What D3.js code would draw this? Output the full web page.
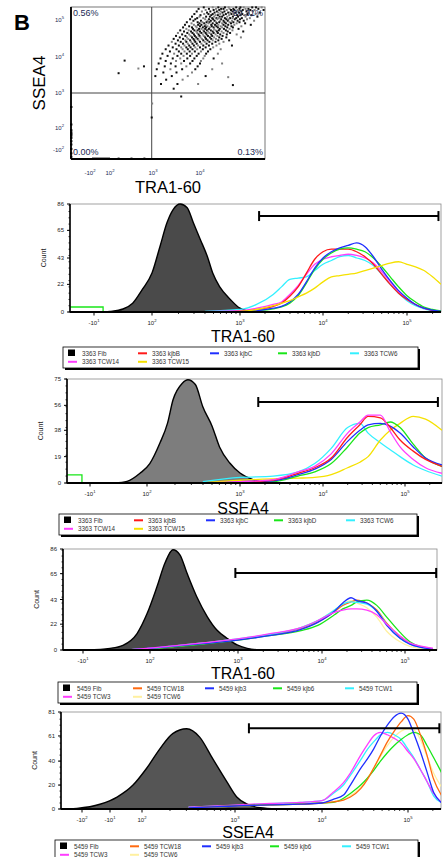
<!DOCTYPE html>
<html>
<head>
<meta charset="utf-8">
<script src="https://cdn.jsdelivr.net/npm/d3@7"></script>
<style>
  body { margin: 0; background: #fff; }
  svg { display: block; font-family: "Liberation Sans", Arial, sans-serif; }
</style>
</head>
<body>
<div id="wrapper"></div>
<script>
// ---------- DATA ------------------------------------------------------
// all x / y values are decades on the biexponential display (3 = 10^3)

// scatter cloud, one row per SSEA4 level: [y, [TRA1-60 values]]
const cloudRows = [
  [5.34, [4.08, 4.27, 4.39, 4.53, 4.61, 4.77, 4.86, 4.93, 5.11, 5.19, 5.31]],
  [5.30, [3.97, 4.19, 4.34, 4.45, 4.5, 4.63, 4.71, 4.84, 4.97, 5.03, 5.24]],
  [5.27, [4.12, 4.29, 4.41, 4.57, 4.66, 4.73, 4.8, 4.91, 5.07, 5.16, 5.35]],
  [5.23, [3.93, 4.04, 4.22, 4.36, 4.44, 4.52, 4.69, 4.78, 4.88, 4.99, 5.13]],
  [5.20, [4.15, 4.31, 4.39, 4.48, 4.6, 4.64, 4.75, 4.83, 5.04, 5.27]],
  [5.16, [3.88, 4.09, 4.18, 4.27, 4.43, 4.55, 4.67, 4.72, 4.9, 5.01, 5.18]],
  [5.13, [4.01, 4.24, 4.33, 4.38, 4.5, 4.62, 4.79, 4.86, 4.95, 5.09]],
  [5.09, [3.83, 3.99, 4.13, 4.21, 4.3, 4.42, 4.47, 4.58, 4.7, 4.81, 4.97, 5.22]],
  [5.05, [3.94, 4.07, 4.26, 4.35, 4.4, 4.53, 4.64, 4.69, 4.77, 4.89, 5.06]],
  [5.02, [3.79, 3.9, 4.11, 4.19, 4.28, 4.37, 4.45, 4.56, 4.61, 4.74, 4.85, 5.0]],
  [4.98, [3.86, 4.02, 4.16, 4.23, 4.31, 4.43, 4.5, 4.59, 4.68, 4.8, 4.93, 5.15]],
  [4.94, [3.72, 3.95, 4.05, 4.14, 4.2, 4.34, 4.41, 4.52, 4.63, 4.71, 4.84]],
  [4.91, [3.82, 3.99, 4.09, 4.18, 4.27, 4.36, 4.47, 4.55, 4.66, 4.78, 4.96]],
  [4.87, [3.68, 3.87, 3.96, 4.03, 4.12, 4.24, 4.32, 4.39, 4.5, 4.6, 4.73, 5.08]],
  [4.83, [3.77, 3.91, 4.0, 4.1, 4.16, 4.25, 4.35, 4.44, 4.54, 4.67, 4.88]],
  [4.80, [3.64, 3.83, 3.93, 4.06, 4.13, 4.21, 4.29, 4.38, 4.47, 4.58, 4.7]],
  [4.76, [3.71, 3.85, 3.98, 4.03, 4.11, 4.19, 4.3, 4.42, 4.51, 4.63, 4.82]],
  [4.72, [3.58, 3.76, 3.88, 3.95, 4.07, 4.15, 4.23, 4.33, 4.4, 4.55, 4.69]],
  [4.69, [3.66, 3.81, 3.92, 4.0, 4.09, 4.17, 4.27, 4.36, 4.46, 4.59, 4.92]],
  [4.65, [3.53, 3.73, 3.84, 3.94, 4.03, 4.12, 4.2, 4.29, 4.38, 4.5, 4.64]],
  [4.61, [3.62, 3.77, 3.87, 3.97, 4.06, 4.14, 4.24, 4.33, 4.43, 4.57, 4.78]],
  [4.57, [3.49, 3.69, 3.8, 3.89, 3.99, 4.08, 4.17, 4.26, 4.37, 4.48]],
  [4.53, [3.57, 3.72, 3.83, 3.92, 4.01, 4.11, 4.21, 4.3, 4.41, 4.56, 4.87]],
  [4.49, [3.44, 3.64, 3.75, 3.86, 3.95, 4.04, 4.13, 4.24, 4.34, 4.46]],
  [4.45, [3.53, 3.69, 3.79, 3.88, 3.97, 4.07, 4.16, 4.27, 4.39, 4.62]],
  [4.41, [3.4, 3.59, 3.71, 3.81, 3.9, 4.0, 4.1, 4.2, 4.33, 4.5]],
  [4.36, [3.48, 3.64, 3.74, 3.84, 3.93, 4.03, 4.14, 4.26, 4.41]],
  [4.31, [3.33, 3.55, 3.67, 3.77, 3.87, 3.96, 4.07, 4.19, 4.35, 4.68]],
  [4.26, [3.42, 3.6, 3.71, 3.8, 3.9, 4.0, 4.12, 4.28]],
  [4.21, [3.27, 3.5, 3.63, 3.74, 3.84, 3.94, 4.06, 4.22, 4.44]],
  [4.15, [3.36, 3.55, 3.67, 3.78, 3.89, 4.02, 4.17]],
  [4.09, [3.2, 3.45, 3.6, 3.72, 3.83, 3.97, 4.13, 4.38]],
  [4.03, [3.31, 3.52, 3.65, 3.79, 3.93, 4.1]],
  [3.96, [3.16, 3.42, 3.58, 3.73, 3.88, 4.07, 4.29]],
  [3.89, [3.27, 3.49, 3.66, 3.84, 4.02]],
  [3.82, [3.12, 3.38, 3.6, 3.79, 4.0, 4.47]],
  [3.74, [3.25, 3.48, 3.71, 3.95]],
  [3.66, [3.08, 3.37, 3.62, 3.9, 4.26]],
  [3.57, [3.22, 3.5, 3.83]],
  [3.47, [3.05, 3.4, 3.74, 4.12]],
  [3.37, [3.28, 3.63]],
  [3.25, [3.17, 3.52, 3.96]],
  [3.12, [3.44]]
];
const strayEvents = [[2.34, 3.9], [2.66, 3.68], [2.79, 3.74], [2.2, 3.55], [2.98, 2.7],
  [2.97, 2.3], [4.7, 3.22], [4.6, 3.44], [3.6, 2.9]];
const leftEdgeEvents = [2.6, 2.1, 1.6, 1.2, 0.9, 0.6, 0.2, -0.4, -1.0, -1.8, -2.6, -3.2];
const bottomEdgeEvents = [-1.4, -1.0, -0.6, -0.2, 0.2, 0.6, 1.0, 1.4, 1.8, 2.2, 2.5, 2.8];
const quadGate = [2.97, 3.0];
const quadLabels = ["0.56%", "99.31%", "0.00%", "0.13%"];
const scatterXTicks = [-2, 2, 3, 4];
const scatterYTicks = [-2, 2, 3, 4, 5];

// legends
const legend3363 = ["3363 Fib", "3363 kjbB", "3363 kjbC", "3363 kjbD", "3363 TCW6", "3363 TCW14", "3363 TCW15"];
const legend5459 = ["5459 Fib", "5459 TCW18", "5459 kjb3", "5459 kjb6", "5459 TCW1", "5459 TCW3", "5459 TCW6"];

// panel 1: TRA1-60, line 3363
const fib1X = [-0.5, -0.17, 0.5, 1.0, 1.5, 2.0, 2.09, 2.17, 2.24, 2.32, 2.4, 2.47, 2.55, 2.63, 2.69, 2.77, 2.89, 3.0, 3.16];
const fib1Y = [0, 0.5, 2.4, 7, 18, 31, 52, 71, 81.5, 86, 83, 71, 57.6, 44, 31, 20, 10, 3, 0];
const grid1 = [2.6, 3.0, 3.2, 3.4, 3.5, 3.6, 3.7, 3.8, 3.9, 4.0, 4.1, 4.2, 4.3, 4.4, 4.5, 4.6, 4.7, 4.8, 4.9, 5.0, 5.1, 5.2, 5.3, 5.4];
const tra3363kjbB = [0, 0.5, 2, 4.5, 7, 12.5, 20, 31, 42, 48, 50, 50, 50, 48, 44, 38, 30, 22, 15, 10, 6, 3, 1.3, 0.5];
const tra3363kjbC = [0, 0.3, 1, 3, 4.5, 8, 14, 24, 35, 43, 48, 51, 53, 55, 52, 44, 34, 25, 17, 11, 6, 3, 1.5, 0.5];
const tra3363kjbD = [0, 0.3, 1, 2.5, 4, 7, 13, 23, 34, 42, 47, 50, 51, 50, 48, 43, 36, 28, 20, 13, 8, 4, 2, 0.8];
const tra3363TCW6 = [0.5, 2, 6, 14, 20, 26, 27, 28, 33, 38, 41, 44, 45, 43, 41, 37, 30, 22, 15, 9, 5, 2.5, 1, 0.4];
const tra3363TCW14 = [0.3, 1, 3, 6, 8, 14, 21, 30, 38, 42, 44, 45, 46, 45, 43, 39, 32, 24, 16, 10, 6, 3, 1.5, 0.5];
const tra3363TCW15 = [0, 0.5, 2, 5, 7, 9, 12, 15, 19, 24, 28, 29, 30, 31, 33, 35, 37, 39, 40, 38, 36, 33, 28, 22];
const gate1 = [3.23, 5.37, 76.4];
const step1 = [-2.2, -0.53, 4];

// panel 2: SSEA4, line 3363
const fib2X = [0.3, 0.95, 1.63, 2.03, 2.14, 2.22, 2.28, 2.38, 2.44, 2.52, 2.6, 2.7, 2.78, 2.89, 3.0, 3.16, 3.33];
const fib2Y = [0, 1.2, 7, 14, 29, 43, 60, 72, 74.5, 71, 55, 41, 26, 14.4, 7.2, 2.4, 0];
const grid2 = [2.6, 3.0, 3.4, 3.7, 3.9, 4.1, 4.3, 4.45, 4.55, 4.7, 4.82, 4.94, 5.1, 5.25, 5.45];
const ssea3363kjbB = [0, 0.5, 2, 7, 11, 18, 33, 42, 48, 47, 40, 31, 23, 17, 12];
const ssea3363kjbC = [0, 0.5, 1.5, 6, 10, 17, 30, 38, 42, 43, 41, 36, 26, 18, 13];
const ssea3363kjbD = [0, 0.5, 1, 5, 8, 14, 26, 36, 40, 42, 44, 40, 28, 18, 12];
const ssea3363TCW6 = [1, 4, 5, 8, 14, 25, 40, 43, 36, 29, 24, 19, 13, 9, 5];
const ssea3363TCW14 = [0, 1, 2.5, 8, 12, 21, 36, 44, 49, 49, 37, 26, 17, 11, 7];
const ssea3363TCW15 = [0, 2, 3, 3.5, 4, 6, 11, 15, 19, 31, 38, 43, 48, 46, 38];
const gate2 = [3.22, 5.4, 58.4];
const step2 = [-2.2, -1.42, 5.8];

// panel 3: TRA1-60, line 5459
const fib3X = [-0.82, 0.21, 0.79, 1.42, 1.87, 2.08, 2.17, 2.26, 2.34, 2.42, 2.53, 2.65, 2.76, 2.875, 2.99, 3.11, 3.26];
const fib3Y = [0, 1.4, 4, 14, 31, 54, 74, 85.4, 81, 65.5, 45.6, 28.5, 17, 10, 4.3, 1.4, 0];
const grid3 = [1.0, 2.0, 2.6, 2.95, 3.35, 3.75, 3.95, 4.15, 4.25, 4.35, 4.42, 4.54, 4.66, 4.78, 4.94, 5.06, 5.18, 5.34];
const tra5459TCW18 = [0, 1.4, 5.7, 8.5, 12.8, 18.5, 24, 32.7, 38, 41, 42.5, 40, 34, 22.8, 11.4, 5.7, 2.8, 0.9];
const tra5459kjb3 = [0, 1.5, 5.5, 8, 12, 17.5, 23.5, 33, 40, 44.5, 42, 40, 33, 21, 10, 5, 2.5, 0.8];
const tra5459kjb6 = [0, 1.2, 5, 8, 12, 16.5, 21, 30, 35, 38, 41, 42.5, 38, 28, 15, 7, 3, 1];
const tra5459TCW1 = [0, 1.4, 6, 9, 13, 19, 25, 34, 39, 41, 40.5, 39, 33, 22, 10, 5, 2.5, 0.8];
const tra5459TCW3 = [0, 1.6, 6, 9, 13.5, 19, 25, 32, 34, 35, 35, 34, 30, 22, 12, 6, 3.5, 1.5];
const tra5459TCW6 = [0, 1.4, 5.5, 8.5, 13, 19, 25, 34, 39, 42, 40, 36, 28, 16, 7, 3, 1.5, 0.5];
const gate3 = [2.97, 5.38, 65.6];

// panel 4: SSEA4, line 5459
const fib4X = [-2.5, -2.18, -1.36, -0.34, 1.16, 2.05, 2.19, 2.33, 2.48, 2.62, 2.76, 2.91, 3.02, 3.14, 3.29, 3.48];
const fib4Y = [0, 0.5, 4, 10, 20, 34, 50, 63, 67, 60, 42, 23, 10, 4, 1, 0];
const grid4 = [2.5, 3.0, 3.4, 3.75, 4.0, 4.13, 4.25, 4.33, 4.45, 4.53, 4.6, 4.68, 4.76, 4.84, 4.92, 5.0, 5.07, 5.15, 5.23, 5.31, 5.41];
const ssea5459TCW18 = [1, 2.5, 3.5, 4, 5, 6, 7.5, 10, 17, 25, 34, 45, 56, 65, 72.7, 78, 75, 62, 45, 25, 11];
const ssea5459kjb3 = [1, 2.5, 3.5, 4, 5, 8, 11.6, 20, 34, 42, 50, 61, 70, 77, 80, 75, 63, 48, 31, 14, 5];
const ssea5459kjb6 = [1, 2.5, 3.5, 4, 5, 5.5, 9, 13, 20, 26, 32, 40, 47, 53, 58, 62, 64, 62, 53, 43, 30];
const ssea5459TCW1 = [1.5, 3, 4.5, 5.5, 7, 13, 20, 28, 41, 50, 56, 62, 64, 62, 58, 50, 43, 33, 23, 11, 5];
const ssea5459TCW3 = [1.5, 3.3, 4.7, 5.5, 7, 14, 22, 30, 45, 54, 61, 64, 62, 59, 55, 48, 42, 33, 23, 13, 5];
const ssea5459TCW6 = [1, 2.5, 3.5, 4, 5, 6, 8, 11, 18, 26, 34, 44, 53, 60, 65, 67, 66, 58, 44, 30, 18];
const gate4 = [3.16, 5.38, 67.4];


// ---------- STYLES / LAYOUT -------------------------------------------
const colors3363 = ["#ff1a1a", "#1f2fff", "#19e619", "#33f0ff", "#ff3dff", "#f5e100"];
const colors5459 = ["#ff6a10", "#1f2fff", "#19e619", "#33f0ff", "#ff3dff", "#fff0a0"];

const panels = [
  { id: 1, label: "TRA1-60", left: 70, right: 441, top: 204, bottom: 312, labelX: 243, labelY: 342,
    xDomain: [-2.2, -1, 2, 3, 4, 5, 5.4], xRange: [70, 94, 152, 240, 323, 407, 441], xTicks: [-1, 2, 3, 4, 5],
    yMax: 86, yTicks: [0, 22, 43, 65, 86], fibFill: "#4a4a4a", fibX: fib1X, fibY: fib1Y, grid: grid1,
    series: [tra3363kjbB, tra3363kjbC, tra3363kjbD, tra3363TCW6, tra3363TCW14, tra3363TCW15],
    colors: colors3363, order: [3, 4, 0, 2, 1, 5], gate: gate1, step: step1,
    legend: { x: 63, y: 347, w: 355, names: legend3363 } },
  { id: 2, label: "SSEA4", left: 67, right: 442, top: 379, bottom: 483, labelX: 243, labelY: 514,
    xDomain: [-2.2, -1, 2, 3, 4, 5, 5.45], xRange: [67, 90, 147, 240, 323, 405, 442], xTicks: [-1, 2, 3, 4, 5],
    yMax: 75, yTicks: [0, 19, 38, 56, 75], fibFill: "#7d7d7d", fibX: fib2X, fibY: fib2Y, grid: grid2,
    series: [ssea3363kjbB, ssea3363kjbC, ssea3363kjbD, ssea3363TCW6, ssea3363TCW14, ssea3363TCW15],
    colors: colors3363, order: [3, 5, 2, 1, 0, 4], gate: gate2, step: step2,
    legend: { x: 59, y: 514, w: 358, names: legend3363 } },
  { id: 3, label: "TRA1-60", left: 63, right: 437, top: 549, bottom: 650, labelX: 243, labelY: 679,
    xDomain: [-1.9, -1, 2, 3, 4, 5, 5.39], xRange: [63, 83, 150, 238, 322, 405, 437], xTicks: [-1, 2, 3, 4, 5],
    yMax: 86, yTicks: [0, 22, 43, 65, 86], fibFill: "#4a4a4a", fibX: fib3X, fibY: fib3Y, grid: grid3,
    series: [tra5459TCW18, tra5459kjb3, tra5459kjb6, tra5459TCW1, tra5459TCW3, tra5459TCW6],
    colors: colors5459, order: [5, 0, 2, 3, 1, 4], gate: gate3, step: null,
    legend: { x: 58, y: 682, w: 359, names: legend5459 } },
  { id: 4, label: "SSEA4", left: 61, right: 441, top: 712, bottom: 809, labelX: 248, labelY: 838,
    xDomain: [-2.75, -2, -1, 2, 3, 4, 5, 5.4], xRange: [61, 82, 110, 142, 235, 322, 408, 441], xTicks: [-2, -1, 2, 3, 4, 5],
    yMax: 81, yTicks: [0, 20, 40, 61, 81], fibFill: "#555555", fibX: fib4X, fibY: fib4Y, grid: grid4,
    series: [ssea5459TCW18, ssea5459kjb3, ssea5459kjb6, ssea5459TCW1, ssea5459TCW3, ssea5459TCW6],
    colors: colors5459, order: [5, 3, 4, 2, 0, 1], gate: gate4, step: null,
    legend: { x: 55, y: 840, w: 363, names: legend5459 } }
];


// ---------- SVG -------------------------------------------------------
const svg = d3.select("#wrapper").append("svg").attr("width", 443).attr("height", 857);

// write "10^n" or "-10^n" with a raised exponent
function powText(sel, d, size) {
  sel.append("tspan").text(d < 0 ? "-10" : "10");
  sel.append("tspan").attr("font-size", size * 0.7).attr("dy", -size * 0.45).text(Math.abs(d));
}


// ---------- SCATTER ---------------------------------------------------
const sc = { left: 71, right: 265, top: 7, bottom: 159 };
const sx = d3.scaleLinear().domain([-6, -2, 2, 3, 4, 5, 5.38]).range([71, 90, 110, 153, 200, 247, 265]);
const sy = d3.scaleLinear().domain([-3.6, -2, 2, 3, 4, 5, 5.35]).range([159, 150, 128, 93, 57, 20, 7]);
const scatter = svg.append("g");

scatter.append("text").attr("x", 14).attr("y", 30)
  .attr("font-size", 22).attr("font-weight", "bold").text("B");

scatter.append("rect")
  .attr("x", sc.left).attr("y", sc.top)
  .attr("width", sc.right - sc.left).attr("height", sc.bottom - sc.top)
  .attr("fill", "#fff").attr("stroke", "#555").attr("stroke-width", 0.8);

// quadrant gate
scatter.append("line")
  .attr("x1", sx(quadGate[0])).attr("x2", sx(quadGate[0]))
  .attr("y1", sc.top).attr("y2", sc.bottom)
  .attr("stroke", "#444").attr("stroke-width", 1);
scatter.append("line")
  .attr("x1", sc.left).attr("x2", sc.right)
  .attr("y1", sy(quadGate[1])).attr("y2", sy(quadGate[1]))
  .attr("stroke", "#444").attr("stroke-width", 1);

const cloud = cloudRows.flatMap(([y, xs]) => xs.map((x) => [x, y])).concat(strayEvents);
scatter.selectAll(".dot").data(cloud).join("rect")
  .attr("class", "dot")
  .attr("x", (d) => sx(d[0]) - 1).attr("y", (d) => sy(d[1]) - 1)
  .attr("width", 2).attr("height", 2)
  .attr("fill", (d, i) => (i % 3 === 1 ? "#808080" : "#111"));

// events piled on the axes
scatter.selectAll(".edgeY").data(leftEdgeEvents).join("rect")
  .attr("x", sc.left - 1).attr("y", (d) => sy(d) - 1)
  .attr("width", 2.4).attr("height", 2).attr("fill", "#000");
scatter.selectAll(".edgeX").data(bottomEdgeEvents).join("rect")
  .attr("x", (d) => sx(d) - 1).attr("y", sc.bottom - 1.4)
  .attr("width", 2).attr("height", 2.4).attr("fill", "#000");

// axis lines
scatter.append("line").attr("x1", sc.left).attr("x2", sc.left)
  .attr("y1", sc.top).attr("y2", sc.bottom).attr("stroke", "#000").attr("stroke-width", 1.8);
scatter.append("line").attr("x1", sc.left).attr("x2", sc.right)
  .attr("y1", sc.bottom).attr("y2", sc.bottom).attr("stroke", "#000").attr("stroke-width", 1.8);

// quadrant percentages
const qPos = [
  [sc.left + 2, sc.top + 9, "start"], [sc.right - 2, sc.top + 9, "end"],
  [sc.left + 2, sc.bottom - 4, "start"], [sc.right - 2, sc.bottom - 4, "end"]
];
quadLabels.forEach((t, i) => {
  scatter.append("text").attr("x", qPos[i][0]).attr("y", qPos[i][1])
    .attr("text-anchor", qPos[i][2]).attr("font-size", 9).attr("fill", "#222a55").text(t);
});

// ticks
scatterXTicks.forEach((d) => {
  powText(scatter.append("text").attr("x", sx(d)).attr("y", 175)
    .attr("text-anchor", "middle").attr("font-size", 6).attr("fill", "#222a55"), d, 6);
});
scatterYTicks.forEach((d) => {
  powText(scatter.append("text").attr("x", 64).attr("y", sy(d) + 2)
    .attr("text-anchor", "end").attr("font-size", 6).attr("fill", "#222a55"), d, 6);
});

scatter.append("text").attr("x", 168).attr("y", 193)
  .attr("text-anchor", "middle").attr("font-size", 16.5).text("TRA1-60");
scatter.append("text").attr("transform", "translate(45,83) rotate(-90)")
  .attr("text-anchor", "middle").attr("font-size", 17).text("SSEA4");


// ---------- HISTOGRAMS ------------------------------------------------
function drawLegend(g, L, colors) {
  const cols = [5, 75, 147, 215, 287];
  g.append("rect").attr("x", L.x + 2).attr("y", L.y + 2)
    .attr("width", L.w).attr("height", 21).attr("fill", "#000");
  g.append("rect").attr("x", L.x).attr("y", L.y)
    .attr("width", L.w).attr("height", 21)
    .attr("fill", "#fff").attr("stroke", "#000").attr("stroke-width", 0.8);
  L.names.forEach((name, i) => {
    const row = i < 5 ? 0 : 1;
    const col = i < 5 ? i : i - 5;
    const x = L.x + cols[col];
    const y = L.y + (row ? 17 : 8.5);
    if (i === 0) {
      g.append("rect").attr("x", x).attr("y", y - 6).attr("width", 7).attr("height", 6.5).attr("fill", "#000");
    } else {
      g.append("line").attr("x1", x).attr("x2", x + 9).attr("y1", y - 2.2).attr("y2", y - 2.2)
        .attr("stroke", colors[i - 1]).attr("stroke-width", 2);
    }
    g.append("text").attr("x", x + 14).attr("y", y)
      .attr("font-size", 6.3).attr("fill", "#333").text(name);
  });
}

function drawPanel(p) {
  const g = svg.append("g");
  const x = d3.scaleLinear().domain(p.xDomain).range(p.xRange);
  const y = d3.scaleLinear().domain([0, p.yMax]).range([p.bottom, p.top]);

  g.append("clipPath").attr("id", "clip" + p.id).append("rect")
    .attr("x", p.left).attr("y", p.top - 1)
    .attr("width", p.right - p.left).attr("height", p.bottom - p.top + 1);

  // frame
  g.append("rect").attr("x", p.left).attr("y", p.top)
    .attr("width", p.right - p.left).attr("height", p.bottom - p.top)
    .attr("fill", "#fff").attr("stroke", "#8a8a8a").attr("stroke-width", 0.8);

  const plot = g.append("g").attr("clip-path", `url(#clip${p.id})`);

  // fibroblast control, filled
  const area = d3.area().x((d) => x(d[0])).y0(y(0)).y1((d) => y(d[1])).curve(d3.curveMonotoneX);
  plot.append("path").datum(d3.zip(p.fibX, p.fibY)).attr("d", area)
    .attr("fill", p.fibFill).attr("stroke", "#000").attr("stroke-width", 1.4);

  // off-scale events at the left
  if (p.step) {
    plot.append("path")
      .datum([[p.step[0], p.step[2]], [p.step[1], p.step[2]], [p.step[1], 0]])
      .attr("d", d3.line().x((d) => x(d[0])).y((d) => y(d[1])))
      .attr("fill", "none").attr("stroke", p.colors[2]).attr("stroke-width", 1.3);
  }

  // sample overlays
  const line = d3.line().x((d) => x(d[0])).y((d) => y(d[1])).curve(d3.curveMonotoneX);
  p.order.forEach((i) => {
    plot.append("path").datum(d3.zip(p.grid, p.series[i])).attr("d", line)
      .attr("fill", "none").attr("stroke", p.colors[i]).attr("stroke-width", 1.3);
  });

  // positive gate
  const gy = y(p.gate[2]);
  g.append("line").attr("x1", x(p.gate[0])).attr("x2", x(p.gate[1]))
    .attr("y1", gy).attr("y2", gy).attr("stroke", "#000").attr("stroke-width", 2);
  [p.gate[0], p.gate[1]].forEach((v) => {
    g.append("line").attr("x1", x(v)).attr("x2", x(v))
      .attr("y1", gy - 5).attr("y2", gy + 5).attr("stroke", "#000").attr("stroke-width", 2);
  });

  // x axis with minor ticks
  g.append("line").attr("x1", p.left).attr("x2", p.right)
    .attr("y1", p.bottom).attr("y2", p.bottom).attr("stroke", "#000").attr("stroke-width", 1.8);
  const maxX = p.xDomain[p.xDomain.length - 1];
  const minor = [];
  [2, 3, 4, 5].forEach((dec) => d3.range(2, 10).forEach((k) => {
    const v = dec + Math.log10(k);
    if (v < maxX) minor.push(v);
  }));
  minor.forEach((v) => {
    g.append("line").attr("x1", x(v)).attr("x2", x(v))
      .attr("y1", p.bottom).attr("y2", p.bottom + 2).attr("stroke", "#000").attr("stroke-width", 0.8);
  });
  p.xTicks.forEach((d) => {
    g.append("line").attr("x1", x(d)).attr("x2", x(d))
      .attr("y1", p.bottom).attr("y2", p.bottom + 3.5).attr("stroke", "#000").attr("stroke-width", 1);
    powText(g.append("text").attr("x", x(d)).attr("y", p.bottom + 13)
      .attr("text-anchor", "middle").attr("font-size", 6).attr("fill", "#222"), d, 6);
  });

  // y axis
  g.append("line").attr("x1", p.left).attr("x2", p.left)
    .attr("y1", p.top).attr("y2", p.bottom).attr("stroke", "#000").attr("stroke-width", 1.6);
  y.ticks(16).forEach((v) => {
    g.append("line").attr("x1", p.left - 1.5).attr("x2", p.left)
      .attr("y1", y(v)).attr("y2", y(v)).attr("stroke", "#000").attr("stroke-width", 0.8);
  });
  p.yTicks.forEach((v) => {
    g.append("line").attr("x1", p.left - 3).attr("x2", p.left)
      .attr("y1", y(v)).attr("y2", y(v)).attr("stroke", "#000").attr("stroke-width", 1);
    g.append("text").attr("x", p.left - 6).attr("y", y(v) + 2)
      .attr("text-anchor", "end").attr("font-size", 6).attr("fill", "#222").text(v);
  });

  g.append("text")
    .attr("transform", `translate(${p.left - 24},${(p.top + p.bottom) / 2}) rotate(-90)`)
    .attr("text-anchor", "middle").attr("font-size", 7).attr("fill", "#222").text("Count");

  g.append("text").attr("x", p.labelX).attr("y", p.labelY)
    .attr("text-anchor", "middle").attr("font-size", 16).text(p.label);

  drawLegend(g, p.legend, p.colors);
}

panels.forEach(drawPanel);
</script>
</body>
</html>
